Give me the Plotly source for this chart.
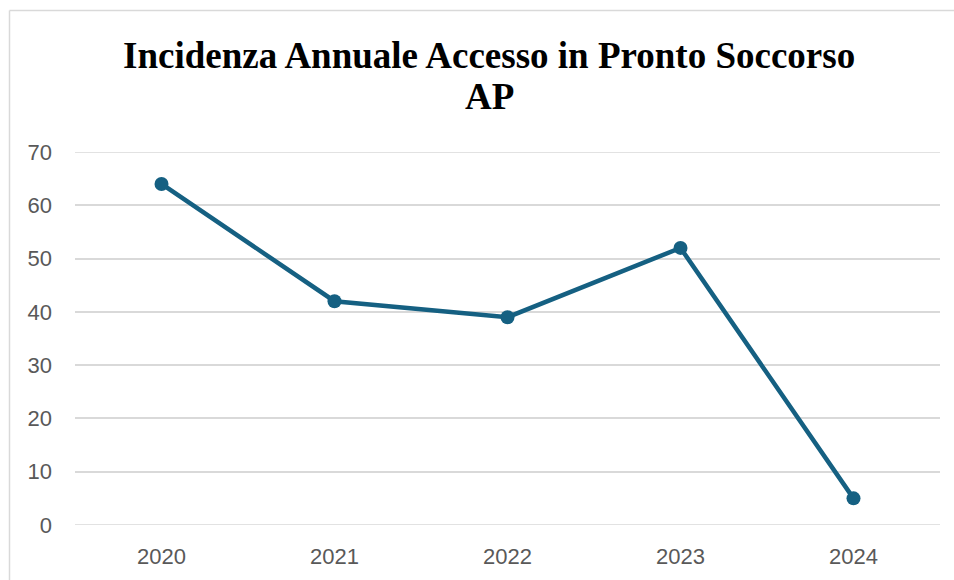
import plotly.graph_objects as go

years = ["2020", "2021", "2022", "2023", "2024"]
values = [64, 42, 39, 52, 5]
y_ticks = [0, 10, 20, 30, 40, 50, 60, 70]
title_line1 = "Incidenza Annuale Accesso in Pronto Soccorso"
title_line2 = "AP"

W, H = 954, 580
plot_left, plot_right, plot_top, plot_bottom = 75, 940, 152, 525
L = plot_left
T = plot_top
pw = plot_right - plot_left
ph = plot_bottom - plot_top
R = W - L - pw
B = H - T - ph

def fx(px):  # page px -> paper x
    return (px - plot_left) / pw

def fy(py):  # page py -> paper y
    return (plot_bottom - py) / ph

fig = go.Figure()
fig.add_trace(go.Scatter(
    x=years, y=values, mode="lines+markers",
    line=dict(color="#156082", width=4.5),
    marker=dict(color="#156082", size=14),
    hoverinfo="skip", showlegend=False,
))

# gridlines at range edges drawn explicitly
for v in [0, 70]:
    fig.add_shape(type="line", xref="paper", yref="y", x0=0, x1=1, y0=v, y1=v,
                  line=dict(color="#d9d9d9", width=1.5), layer="below")

# chart border (top and left edges visible)
border = dict(color="#d9d9d9", width=1.5)
fig.add_shape(type="line", xref="paper", yref="paper",
              x0=fx(9.5), x1=fx(960), y0=fy(10.5), y1=fy(10.5), line=border, layer="below")
fig.add_shape(type="line", xref="paper", yref="paper",
              x0=fx(9.5), x1=fx(9.5), y0=fy(10.5), y1=fy(600), line=border, layer="below")

title_font = dict(family="Liberation Serif, Times New Roman, serif", size=37, color="black")
fig.add_annotation(text="<b>" + title_line1 + "</b>", xref="paper", yref="paper",
                   x=fx(489), y=fy(55), xanchor="center", yanchor="middle",
                   showarrow=False, font=title_font)
fig.add_annotation(text="<b>" + title_line2 + "</b>", xref="paper", yref="paper",
                   x=fx(489), y=fy(97), xanchor="center", yanchor="middle",
                   showarrow=False, font=title_font)

tick_font = dict(family="Liberation Sans, Arial, sans-serif", size=22, color="#595959")
fig.update_layout(
    width=W, height=H,
    margin=dict(l=L, r=R, t=T, b=B, autoexpand=False),
    paper_bgcolor="white", plot_bgcolor="white",
    xaxis=dict(
        type="category", range=[-0.5, 4.5],
        showgrid=False, zeroline=False, showline=False,
        ticks="", ticklabelstandoff=16, tickfont=tick_font,
    ),
    yaxis=dict(
        range=[0, 70], tickvals=y_ticks,
        showgrid=True, gridcolor="#d9d9d9", gridwidth=1.5,
        zeroline=False, showline=False, ticks="",
        ticklabelstandoff=22, tickfont=tick_font,
    ),
)
fig.write_html(
    "out.html",
    config={"displayModeBar": False},
    post_script="document.body.style.margin='0';document.body.style.overflow='hidden';"
                "document.documentElement.style.overflow='hidden';",
)
